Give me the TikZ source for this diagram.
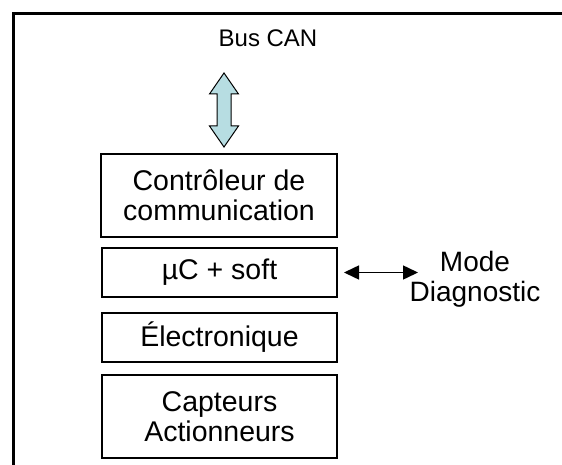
\documentclass[tikz,border=0pt]{standalone}
\usepackage{fontspec}
\setmainfont{Liberation Sans}
\usetikzlibrary{arrows.meta,calc}
\definecolor{arrowfill}{RGB}{183,221,226}
\begin{document}
\begin{tikzpicture}[x=1pt,y=-1pt,
  layerbox/.style={draw=black,line width=2pt,inner sep=0pt,align=center,
    font=\fontsize{28.5}{30}\selectfont},
  lbl/.style={inner sep=0pt,align=center,font=\fontsize{28}{30}\selectfont}]
\useasboundingbox (0,0) rectangle (562,465);
% frame (top and left edges)
\draw[line width=3pt] (13,465) -- (13,13.5) -- (562,13.5);
% title
\node[lbl,font=\fontsize{24}{28}\selectfont] (bus) at (268,38) {Bus CAN};
% layers
\node[layerbox,minimum width=236,minimum height=83] (ctrl) at (219,195.5)
  {Contrôleur de\\communication};
\node[layerbox,minimum width=235,minimum height=49] (uc) at (219.5,272.5) {µC + soft};
\node[layerbox,minimum width=235,minimum height=49] (elec) at (219.5,337.5) {Électronique};
\node[layerbox,minimum width=235,minimum height=83] (capt) at (219.5,416.5)
  {Capteurs\\Actionneurs};
\node[lbl] (diag) at (475,279) {Mode\\Diagnostic};
% double block arrow between Bus CAN and the controller
\coordinate (aT) at (224,73);
\coordinate (aB) at (224,147);
\draw[line width=1pt,fill=arrowfill,line join=miter]
  (aT) -- ($(aT)+(14.5,21)$) -- ($(aT)+(7,21)$) -- ($(aB)+(7,-21)$) -- ($(aB)+(14.5,-21)$)
  -- (aB) -- ($(aB)+(-14.5,-21)$) -- ($(aB)+(-7,-21)$) -- ($(aT)+(-7,21)$)
  -- ($(aT)+(-14.5,21)$) -- cycle;
% diagnostic link
\draw[line width=1.5pt,{Triangle[length=15pt,width=14pt]}-{Triangle[length=15pt,width=14pt]}]
  ($(uc.east)+(6,0)$) -- ($(uc.east)+(80,0)$);
\end{tikzpicture}
\end{document}
